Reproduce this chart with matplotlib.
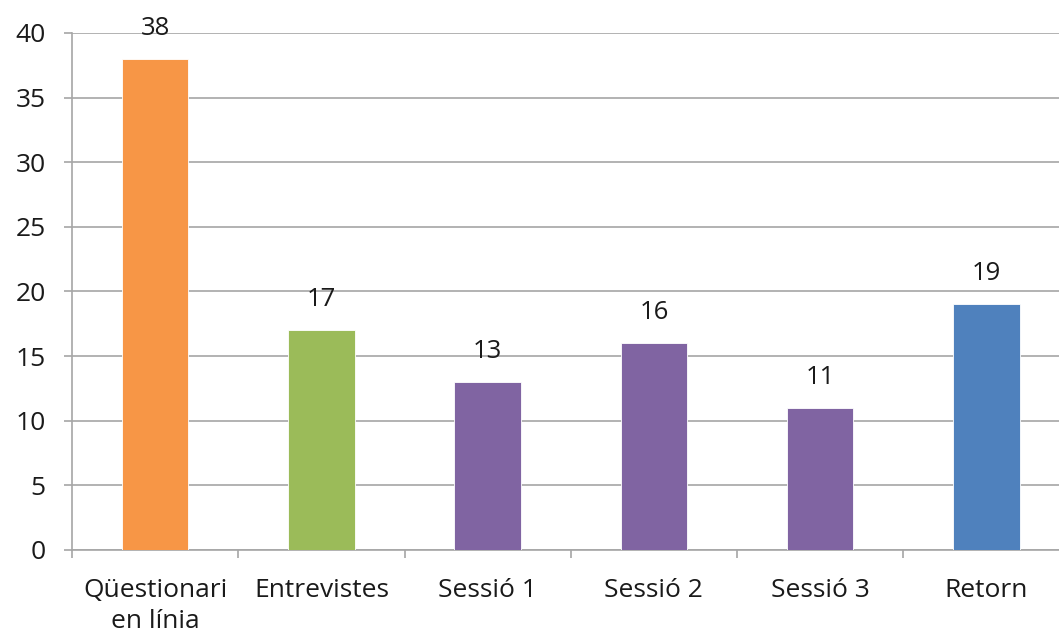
import matplotlib.pyplot as plt
from matplotlib.ticker import FixedLocator

categories = ["Qüestionari\nen línia", "Entrevistes", "Sessió 1", "Sessió 2", "Sessió 3", "Retorn"]
values = [38, 17, 13, 16, 11, 19]
colors = ["#F79646", "#9BBB59", "#8064A2", "#8064A2", "#8064A2", "#4F81BD"]

plt.rcParams['font.family'] = ['Open Sans', 'DejaVu Sans']

fig = plt.figure(figsize=(10.59, 6.37), dpi=100)
ax = fig.add_axes([0.068, 0.1366, 0.942, 0.8116])

x = list(range(len(categories)))
ax.bar(x, values, width=0.40, color=colors, edgecolor="white", linewidth=0.6, zorder=3)
for xi, v in zip(x, values):
    ax.text(xi, v + 1.4, str(v), ha="center", va="bottom", fontsize=18.5, color="#1a1a1a")

ax.set_xlim(-0.5, len(categories) - 0.5)
ax.set_ylim(0, 40)
ax.set_yticks(range(0, 41, 5))
ax.yaxis.grid(True, color="#a6a6a6", linewidth=1.2, zorder=0)

ax.set_xticks(x)
ax.set_xticklabels(categories, fontsize=19, color="#1a1a1a", linespacing=1.35)
ax.tick_params(axis="x", length=0, pad=20)
ax.xaxis.set_minor_locator(FixedLocator([i + 0.5 for i in range(len(categories) - 1)] + [-0.5]))
ax.tick_params(axis="x", which="minor", length=5.5, color="#a6a6a6", width=1.2)
ax.tick_params(axis="y", length=6, color="#a6a6a6", width=1.2, labelsize=19, labelcolor="#1a1a1a", pad=13)

for s in ["top", "right"]:
    ax.spines[s].set_visible(False)
for s in ["left", "bottom"]:
    ax.spines[s].set_color("#a6a6a6")
    ax.spines[s].set_linewidth(1.2)

fig.savefig("out.png", dpi=100)
